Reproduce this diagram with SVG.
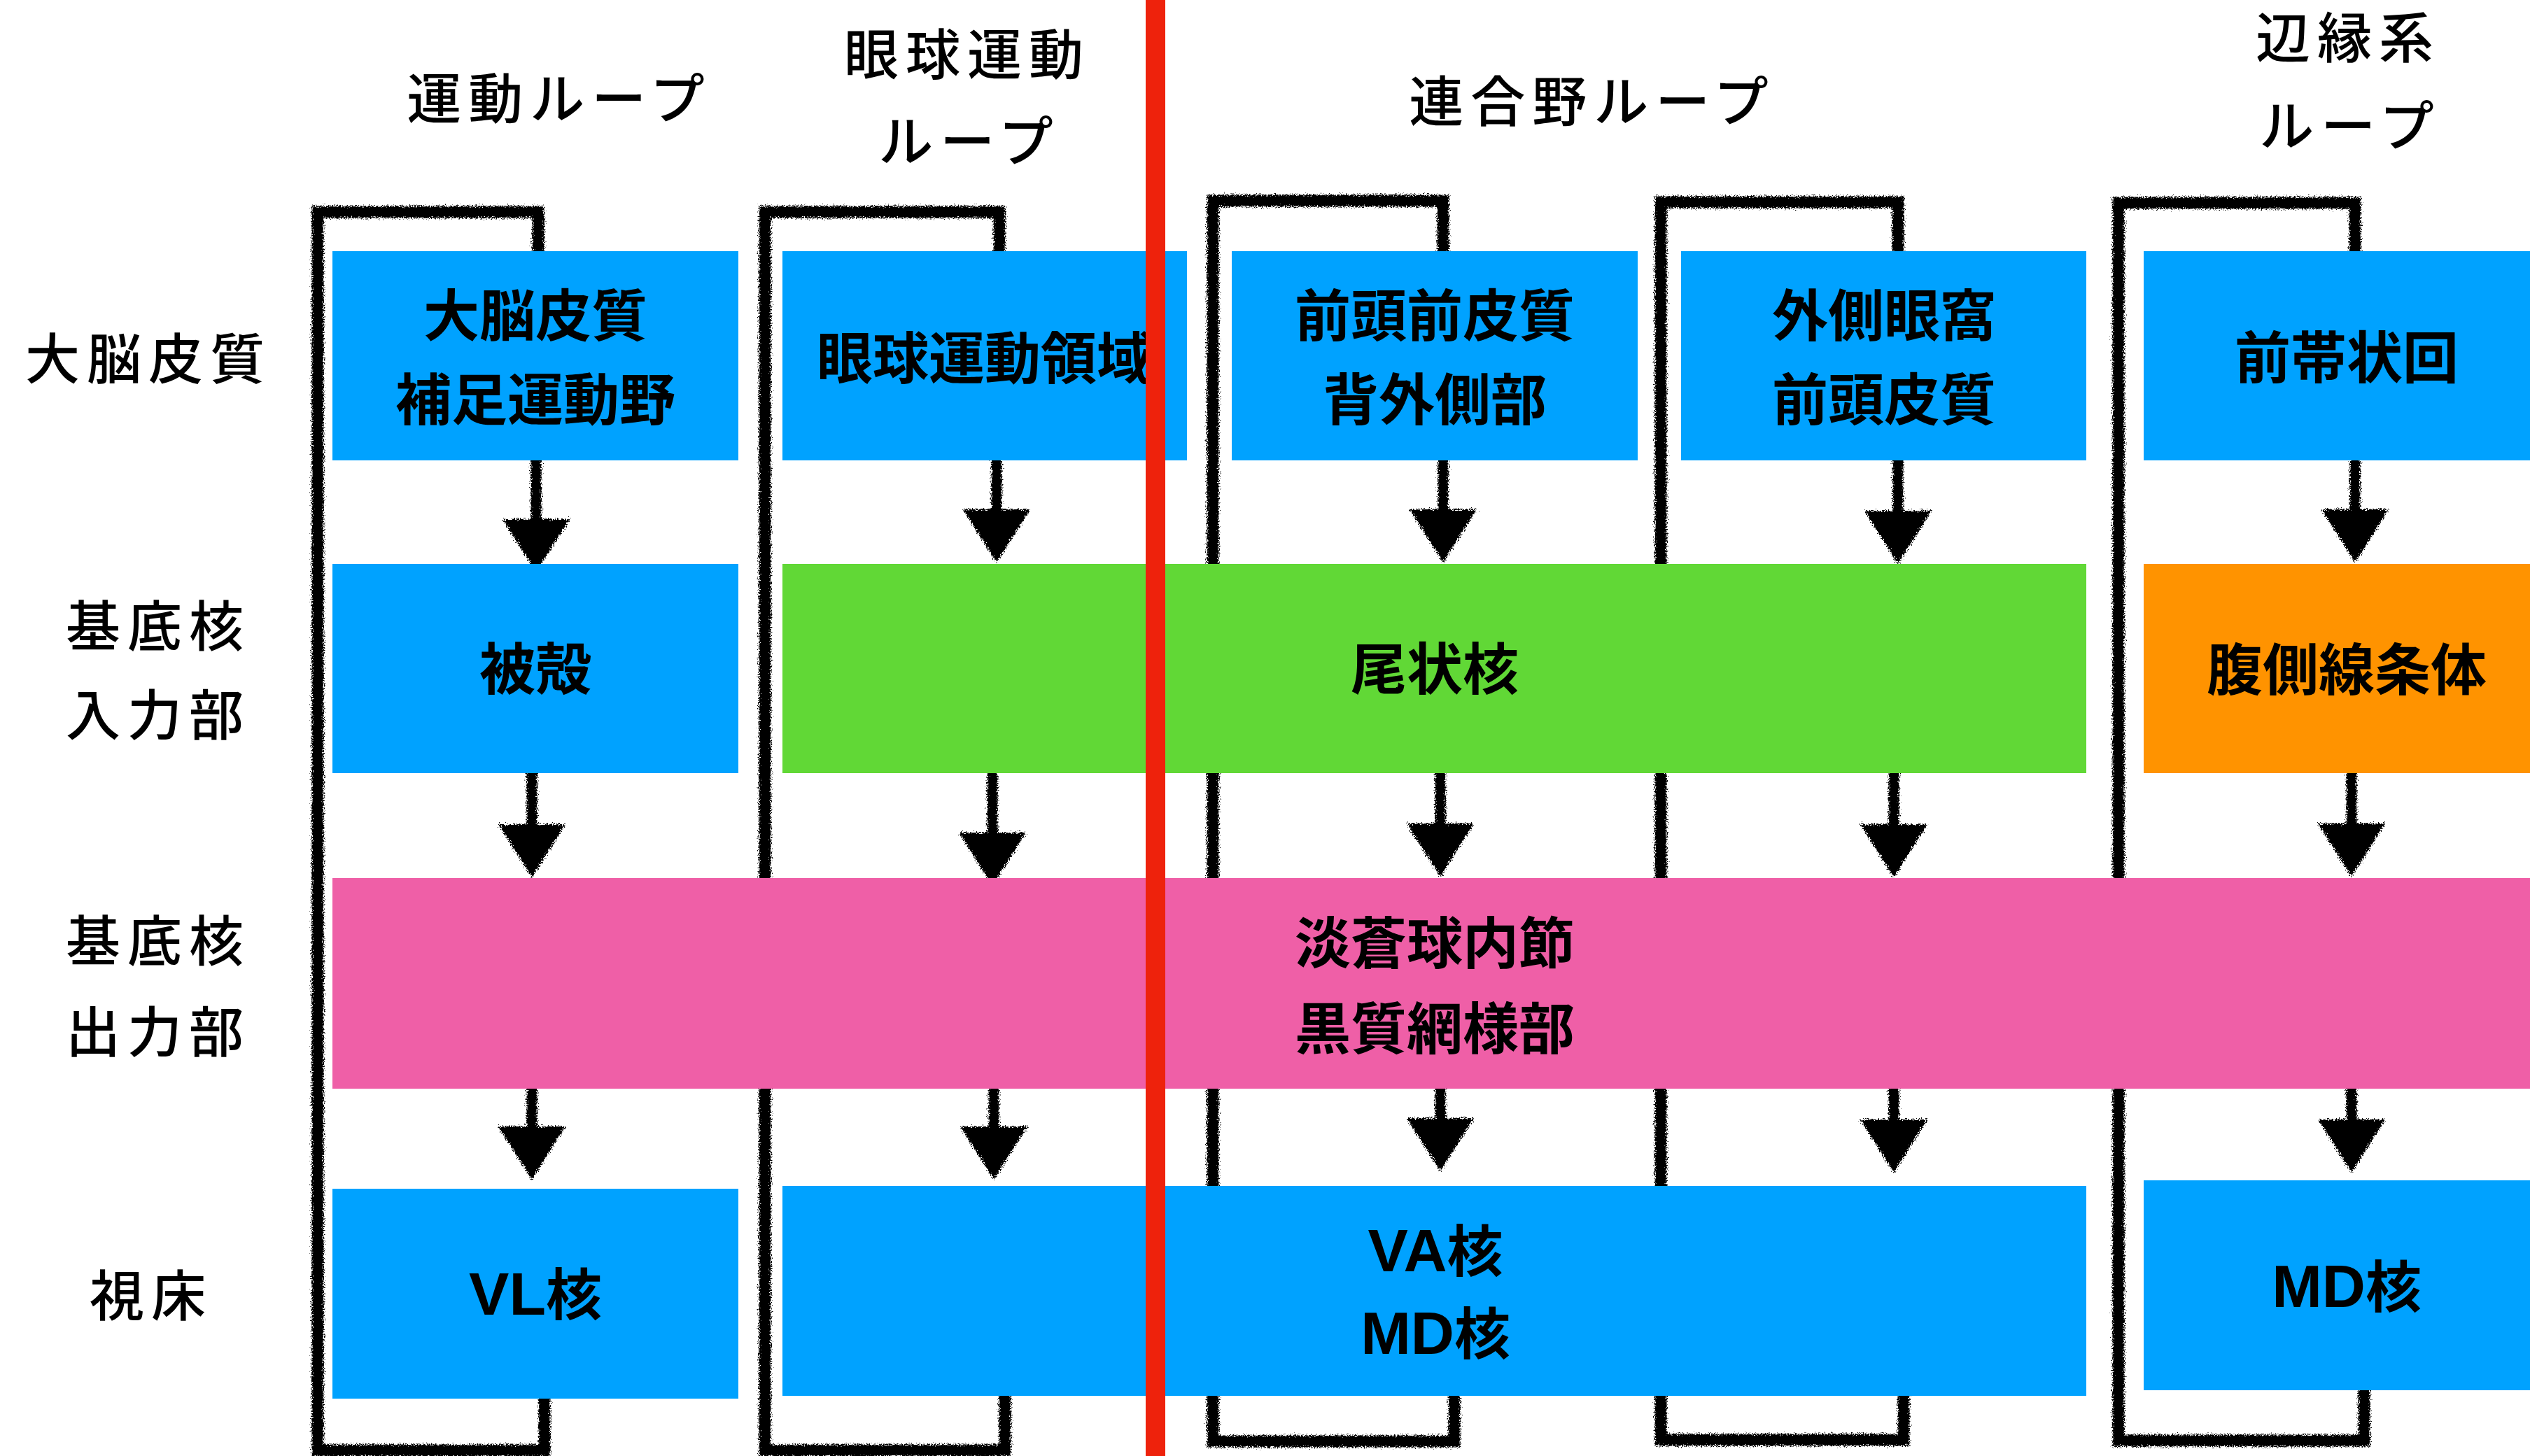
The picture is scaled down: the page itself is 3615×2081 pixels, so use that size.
<svg xmlns="http://www.w3.org/2000/svg" xmlns:xlink="http://www.w3.org/1999/xlink" width="3615" height="2081" viewBox="0 0 3615 2081">
<style>
.blue{fill:#00A2FF}.green{fill:#61D836}.pink{fill:#EF5FA7}.orange{fill:#FF9300}
.bt{font-family:"Noto Sans CJK JP","Noto Sans CJK SC",sans-serif;font-weight:700;font-size:80px;text-anchor:middle;fill:#000}
.lat{font-family:"Liberation Sans","Noto Sans CJK JP",sans-serif;font-weight:700;font-size:86px;text-anchor:middle;fill:#000}
.k{font-family:"Noto Sans CJK JP",sans-serif;font-size:80px}
.lbl{font-family:"Noto Sans CJK JP","Noto Sans CJK SC",sans-serif;font-weight:500;font-size:78px;letter-spacing:10px;text-anchor:middle;fill:#000}
.loop{fill:none;stroke:#000;stroke-width:17;stroke-linejoin:miter}
.stem{stroke:#000;stroke-width:15}
</style>
<defs>
<filter id="chalk" filterUnits="userSpaceOnUse" x="0" y="0" width="3615" height="2081">
<feTurbulence type="fractalNoise" baseFrequency="0.55" numOctaves="2" seed="4" result="n"/>
<feDisplacementMap in="SourceGraphic" in2="n" scale="11" xChannelSelector="R" yChannelSelector="G"/>
</filter>
<path id="ah" d="M-48,-76 L48,-76 L0,0 Z" fill="#000"/>
</defs>
<rect width="3615" height="2081" fill="#fff"/>

<g id="connectors" filter="url(#chalk)">
<path class="loop" d="M778,1990 L778,2073 L454,2073 L454,303 L769,303 L769,370"/>
<path class="loop" d="M1436,1985 L1436,2073 L1093,2073 L1093,303 L1428,303 L1428,370"/>
<path class="loop" d="M2078,1985 L2078,2060 L1733,2060 L1733,287 L2062,287 L2062,370"/>
<path class="loop" d="M2720,1985 L2720,2058 L2373,2058 L2373,289 L2712,289 L2712,370"/>
<path class="loop" d="M3378,1980 L3378,2059 L3027,2059 L3027,290 L3365,290 L3365,370"/>
<line class="stem" x1="766" y1="650" x2="766" y2="760"/>
<line class="stem" x1="760" y1="1100" x2="760" y2="1200"/>
<line class="stem" x1="760" y1="1550" x2="760" y2="1620"/>
<line class="stem" x1="1424" y1="650" x2="1424" y2="750"/>
<line class="stem" x1="1418" y1="1100" x2="1418" y2="1210"/>
<line class="stem" x1="1420" y1="1550" x2="1420" y2="1620"/>
<line class="stem" x1="2062" y1="650" x2="2062" y2="750"/>
<line class="stem" x1="2058" y1="1100" x2="2058" y2="1200"/>
<line class="stem" x1="2058" y1="1550" x2="2058" y2="1620"/>
<line class="stem" x1="2712" y1="650" x2="2712" y2="750"/>
<line class="stem" x1="2706" y1="1100" x2="2706" y2="1200"/>
<line class="stem" x1="2706" y1="1550" x2="2706" y2="1620"/>
<line class="stem" x1="3365" y1="650" x2="3365" y2="750"/>
<line class="stem" x1="3360" y1="1100" x2="3360" y2="1200"/>
<line class="stem" x1="3360" y1="1550" x2="3360" y2="1620"/>
<use xlink:href="#ah" x="766" y="818"/>
<use xlink:href="#ah" x="760" y="1254"/>
<use xlink:href="#ah" x="760" y="1686"/>
<use xlink:href="#ah" x="1424" y="804"/>
<use xlink:href="#ah" x="1418" y="1266"/>
<use xlink:href="#ah" x="1420" y="1686"/>
<use xlink:href="#ah" x="2062" y="804"/>
<use xlink:href="#ah" x="2058" y="1253"/>
<use xlink:href="#ah" x="2058" y="1674"/>
<use xlink:href="#ah" x="2712" y="806"/>
<use xlink:href="#ah" x="2706" y="1254"/>
<use xlink:href="#ah" x="2706" y="1676"/>
<use xlink:href="#ah" x="3365" y="804"/>
<use xlink:href="#ah" x="3360" y="1253"/>
<use xlink:href="#ah" x="3360" y="1676"/>
</g>

<g id="labels">
<text class="lbl" x="212" y="542">大脳皮質</text>
<text class="lbl" x="226" y="924">基底核</text>
<text class="lbl" x="226" y="1051">入力部</text>
<text class="lbl" x="226" y="1374">基底核</text>
<text class="lbl" x="226" y="1504">出力部</text>
<text class="lbl" x="216" y="1881">視床</text>
<text class="lbl" x="799" y="170">運動ループ</text>
<text class="lbl" x="1382" y="107">眼球運動</text>
<text class="lbl" x="1385" y="231">ループ</text>
<text class="lbl" x="2275" y="174">連合野ループ</text>
<text class="lbl" x="3355" y="83">辺縁系</text>
<text class="lbl" x="3358" y="209">ループ</text>
</g>

<g id="n-cortex-motor"><rect class="blue" x="475" y="359" width="580" height="299"/>
<text class="bt" x="765" y="480">大脳皮質</text><text class="bt" x="765" y="600">補足運動野</text></g>
<g id="n-cortex-eye"><rect class="blue" x="1118" y="359" width="578" height="299"/>
<text class="bt" x="1407" y="541">眼球運動領域</text></g>
<g id="n-cortex-dlpfc"><rect class="blue" x="1760" y="359" width="580" height="299"/>
<text class="bt" x="2050" y="480">前頭前皮質</text><text class="bt" x="2050" y="600">背外側部</text></g>
<g id="n-cortex-ofc"><rect class="blue" x="2402" y="359" width="579" height="299"/>
<text class="bt" x="2692" y="480">外側眼窩</text><text class="bt" x="2692" y="600">前頭皮質</text></g>
<g id="n-cortex-acc"><rect class="blue" x="3063" y="359" width="580" height="299"/>
<text class="bt" x="3353" y="540">前帯状回</text></g>

<g id="n-putamen"><rect class="blue" x="475" y="806" width="580" height="299"/>
<text class="bt" x="765" y="985">被殻</text></g>
<g id="n-caudate"><rect class="green" x="1118" y="806" width="1863" height="299"/>
<text class="bt" x="2050" y="985">尾状核</text></g>
<g id="n-ventral-striatum"><rect class="orange" x="3063" y="806" width="580" height="299"/>
<text class="bt" x="3353" y="986">腹側線条体</text></g>

<g id="n-output"><rect class="pink" x="475" y="1255" width="3140" height="301"/>
<text class="bt" x="2050" y="1377">淡蒼球内節</text><text class="bt" x="2050" y="1499">黒質網様部</text></g>

<g id="n-vl"><rect class="blue" x="475" y="1699" width="580" height="300"/>
<text class="lat" x="765" y="1879">VL<tspan class="k">核</tspan></text></g>
<g id="n-va-md"><rect class="blue" x="1118" y="1695" width="1863" height="300"/>
<text class="lat" x="2051" y="1817">VA<tspan class="k">核</tspan></text><text class="lat" x="2051" y="1935">MD<tspan class="k">核</tspan></text></g>
<g id="n-md"><rect class="blue" x="3063" y="1687" width="580" height="300"/>
<text class="lat" x="3353" y="1868">MD<tspan class="k">核</tspan></text></g>

<rect id="divider" x="1637" y="0" width="28" height="2081" fill="#EE220C"/>
</svg>
